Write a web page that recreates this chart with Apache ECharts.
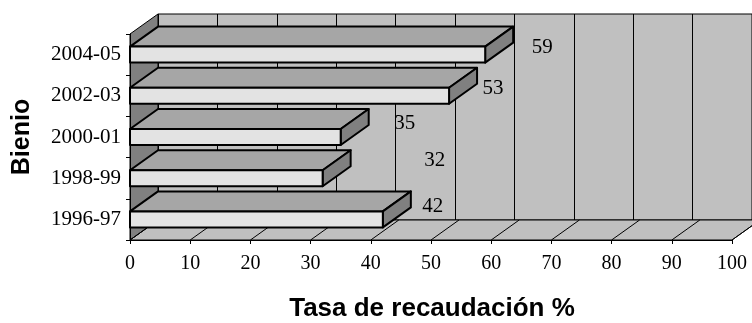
<!DOCTYPE html>
<html>
<head>
<meta charset="utf-8">
<script src="https://cdn.jsdelivr.net/npm/echarts@6/dist/echarts.min.js"></script>
<style>
  html, body { margin: 0; padding: 0; background: #fff; }
  #chart { width: 752px; height: 323px; }
</style>
</head>
<body>
<div id="chart"></div>
<script>
// datos (de abajo hacia arriba)
const bienios = ['1996-97', '1998-99', '2000-01', '2002-03', '2004-05']
const tasas = [42, 32, 35, 53, 59]
const xTicks = [0, 10, 20, 30, 40, 50, 60, 70, 80, 90, 100]

// etiquetas movidas a mano en el original: [dx desde el fin de la barra, dy]
const labelOffsets = [[50, -13], [112, -18], [64, -14], [44, -7], [57, -7]]

const DX = 28 // profundidad 3d
const DY = -20
const serif = 'Liberation Serif'

const myChart = echarts.init(document.getElementById('chart'))

const option = {
  animation: false,
  grid: [
    { left: 130, top: 34, width: 602, height: 206 },
    // pared del fondo
    { left: 130 + DX, top: 34 + DY, width: 602, height: 206, show: true, backgroundColor: '#c0c0c0', borderColor: '#000', borderWidth: 1 }
  ],
  xAxis: [
    {
      gridIndex: 0,
      type: 'value',
      min: 0,
      max: 100,
      interval: 10,
      z: 10,
      splitLine: { show: false },
      axisLine: { show: true, lineStyle: { color: '#000', width: 1 } },
      axisTick: { show: true, length: 4, lineStyle: { color: '#000' } },
      axisLabel: { margin: 14, color: '#000', fontFamily: serif, fontSize: 20 }
    },
    {
      gridIndex: 1,
      type: 'value',
      min: 0,
      max: 100,
      interval: 10,
      axisLine: { show: false },
      axisTick: { show: false },
      axisLabel: { show: false },
      splitLine: { show: true, lineStyle: { color: '#000', width: 1 } }
    }
  ],
  yAxis: [
    {
      gridIndex: 0,
      type: 'category',
      data: bienios,
      z: 10,
      axisLine: { show: true, lineStyle: { color: '#000', width: 1 } },
      axisTick: { show: true, length: 4, lineStyle: { color: '#000' } },
      axisLabel: { margin: 9, color: '#000', fontFamily: serif, fontSize: 21 }
    },
    {
      gridIndex: 1,
      type: 'category',
      data: bienios,
      show: false
    }
  ],
  graphic: [
    {
      type: 'text',
      x: 432,
      y: 309,
      style: {
        text: 'Tasa de recaudación %',
        font: 'bold 26px "Liberation Sans"',
        fill: '#000',
        align: 'center',
        verticalAlign: 'middle'
      }
    },
    {
      type: 'text',
      x: 22,
      y: 137,
      rotation: Math.PI / 2,
      style: {
        text: 'Bienio',
        font: 'bold 25px "Liberation Sans"',
        fill: '#000',
        align: 'center',
        verticalAlign: 'middle'
      }
    }
  ],
  series: [
    {
      // piso y pared izquierda
      type: 'custom',
      xAxisIndex: 0,
      yAxisIndex: 0,
      z: 1,
      silent: true,
      data: [[0, 0]],
      renderItem: function (params, api) {
        const cs = params.coordSys
        const x = cs.x
        const y = cs.y
        const h = cs.height
        const w = cs.width
        const children = [
          {
            type: 'polygon',
            shape: { points: [[x, y + h], [x + w, y + h], [x + w + DX, y + h + DY], [x + DX, y + h + DY]] },
            style: { fill: '#c0c0c0', stroke: '#000', lineWidth: 1 }
          },
          {
            type: 'polygon',
            shape: { points: [[x, y], [x + DX, y + DY], [x + DX, y + h + DY], [x, y + h]] },
            style: { fill: '#808080', stroke: '#000', lineWidth: 1 }
          }
        ]
        xTicks.forEach(function (v) {
          const px = api.coord([v, 0])[0]
          children.push({
            type: 'line',
            shape: { x1: px, y1: y + h, x2: px + DX, y2: y + h + DY },
            style: { stroke: '#000', lineWidth: 1 }
          })
        })
        return { type: 'group', children: children }
      }
    },
    {
      // barras 3d
      type: 'custom',
      xAxisIndex: 0,
      yAxisIndex: 0,
      z: 5,
      data: tasas.map(function (v, i) { return [v, i] }),
      encode: { x: 0, y: 1 },
      renderItem: function (params, api) {
        const end = api.coord([api.value(0), api.value(1)])
        const start = api.coord([0, api.value(1)])
        const x0 = start[0]
        const x1 = end[0]
        const c = end[1]
        const t = c - 8
        const b = c + 8
        const line = { stroke: '#000', lineWidth: 2, lineJoin: 'round' }
        const off = labelOffsets[params.dataIndex]
        return {
          type: 'group',
          children: [
            {
              type: 'polygon',
              shape: { points: [[x0, t], [x1, t], [x1 + DX, t + DY], [x0 + DX, t + DY]] },
              style: Object.assign({ fill: '#a6a6a6' }, line)
            },
            {
              type: 'polygon',
              shape: { points: [[x1, t], [x1 + DX, t + DY], [x1 + DX, b + DY], [x1, b]] },
              style: Object.assign({ fill: '#808080' }, line)
            },
            {
              type: 'rect',
              shape: { x: x0, y: t, width: x1 - x0, height: b - t },
              style: Object.assign({ fill: '#e3e3e3' }, line)
            },
            {
              type: 'text',
              x: x1 + off[0],
              y: c + off[1],
              style: {
                text: String(api.value(0)),
                font: '21px "' + serif + '"',
                fill: '#000',
                align: 'center',
                verticalAlign: 'middle'
              }
            }
          ]
        }
      }
    }
  ]
}

myChart.setOption(option)
</script>
</body>
</html>
